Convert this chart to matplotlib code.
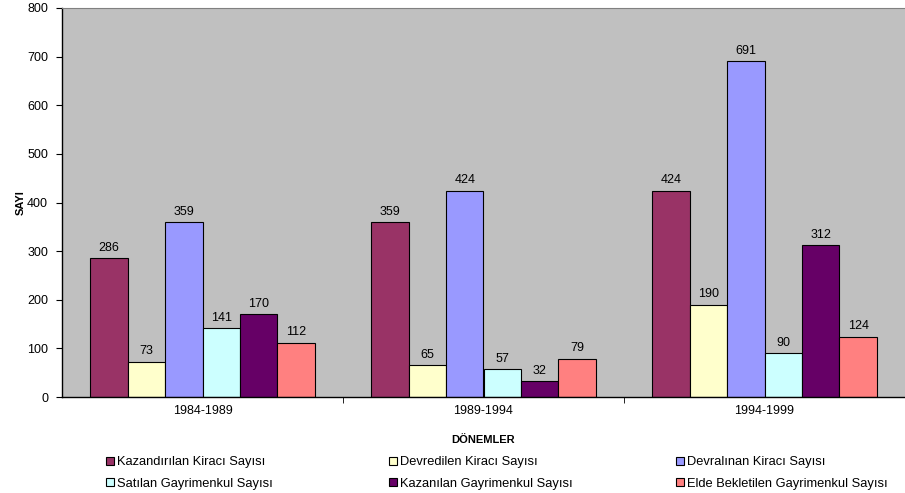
import matplotlib
matplotlib.use('Agg')
import matplotlib.pyplot as plt
import numpy as np
from matplotlib.patches import Patch

matplotlib.rcParams['font.family'] = ['Liberation Sans', 'DejaVu Sans']
matplotlib.rcParams['font.size'] = 9

periods = ['1984-1989', '1989-1994', '1994-1999']
series_names = ['Kazandırılan Kiracı Sayısı', 'Devredilen Kiracı Sayısı',
                'Devralınan Kiracı Sayısı', 'Satılan Gayrimenkul Sayısı',
                'Kazanılan Gayrimenkul Sayısı', 'Elde Bekletilen Gayrimenkul Sayısı']
kazandirilan = [286, 359, 424]
devredilen = [73, 65, 190]
devralinan = [359, 424, 691]
satilan = [141, 57, 90]
kazanilan = [170, 32, 312]
elde = [112, 79, 124]
colors = ['#993366', '#FFFFCC', '#9999FF', '#CCFFFF', '#660066', '#FF8080']

series = [kazandirilan, devredilen, devralinan, satilan, kazanilan, elde]

fig = plt.figure(figsize=(9.05, 4.93), dpi=100)
ax = fig.add_axes([62 / 905, 1 - 397 / 493, 843 / 905, 389 / 493])
ax.set_facecolor('#C0C0C0')

x = np.arange(len(periods))
w = 0.8 / 6
for i, (vals, c) in enumerate(zip(series, colors)):
    pos = x - 0.4 + w * (i + 0.5)
    bars = ax.bar(pos, vals, width=w, color=c, edgecolor='black', linewidth=0.8,
                  label=series_names[i], zorder=2)
    for b, v in zip(bars, vals):
        ax.text(b.get_x() + b.get_width() / 2, v + 9, str(v),
                ha='center', va='bottom', fontsize=9)

ax.set_xlim(-0.5, 2.5)
ax.set_ylim(0, 800)
ax.set_yticks(np.arange(0, 801, 100))
ax.set_xticks(x)
ax.set_xticklabels(periods)
ax.set_xticks([0.5, 1.5, 2.5], minor=True)
ax.tick_params(axis='x', which='major', length=0, pad=6, labelsize=9)
ax.tick_params(axis='x', which='minor', length=4, direction='out')
ax.tick_params(axis='y', length=4, direction='out', pad=6, labelsize=9)

ax.spines['right'].set_visible(False)
ax.spines['top'].set_color('#808080')
ax.spines['left'].set_linewidth(1)
ax.spines['bottom'].set_linewidth(1)

ax.set_ylabel('SAYI', fontweight='bold', fontsize=8, labelpad=1)
ax.set_xlabel('DÖNEMLER', fontweight='bold', fontsize=8, labelpad=13)

# legend: three columns, two rows, placed by hand like the Excel original
handles = [Patch(facecolor=c, edgecolor='black', linewidth=0.8) for c in colors]
col_x = [106, 389, 676]
for k, cx in enumerate(col_x):
    idx = [k, k + 3]
    leg = fig.legend([handles[i] for i in idx], [series_names[i] for i in idx],
                     loc='center left', bbox_to_anchor=(cx / 905, 1 - 473 / 493),
                     frameon=False, fontsize=9.3, borderpad=0, borderaxespad=0,
                     handlelength=0.63, handleheight=0.63, handletextpad=0.2,
                     labelspacing=0.7)

fig.savefig('out.png', dpi=100)
